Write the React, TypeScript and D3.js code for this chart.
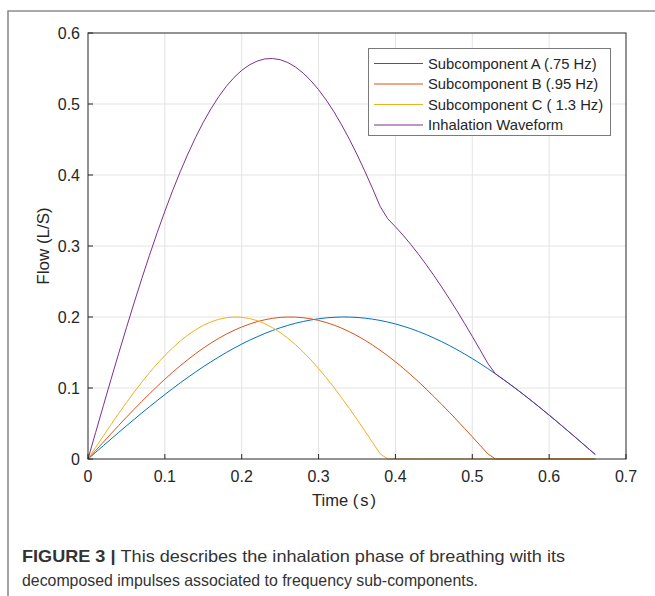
import React from "react";
import * as d3 from "d3";

const time: number[] = [
  0, 0.01, 0.02, 0.03, 0.04, 0.05, 0.06, 0.07, 0.08, 0.09,
  0.1, 0.11, 0.12, 0.13, 0.14, 0.15, 0.16, 0.17, 0.18, 0.19,
  0.2, 0.21, 0.22, 0.23, 0.24, 0.25, 0.26, 0.27, 0.28, 0.29,
  0.3, 0.31, 0.32, 0.33, 0.34, 0.35, 0.36, 0.37, 0.38, 0.39,
  0.4, 0.41, 0.42, 0.43, 0.44, 0.45, 0.46, 0.47, 0.48, 0.49,
  0.5, 0.51, 0.52, 0.53, 0.54, 0.55, 0.56, 0.57, 0.58, 0.59,
  0.6, 0.61, 0.62, 0.63, 0.64, 0.65, 0.66,
];

const subA: number[] = [
  0, 0.0094, 0.0188, 0.0282, 0.0375, 0.0467, 0.0558, 0.0648, 0.0736, 0.0823,
  0.0908, 0.0991, 0.1072, 0.115, 0.1226, 0.1299, 0.1369, 0.1436, 0.15, 0.1561,
  0.1618, 0.1672, 0.1721, 0.1768, 0.181, 0.1848, 0.1882, 0.1912, 0.1937, 0.1958,
  0.1975, 0.1988, 0.1996, 0.2, 0.1999, 0.1994, 0.1984, 0.197, 0.1952, 0.1929,
  0.1902, 0.1871, 0.1836, 0.1796, 0.1753, 0.1705, 0.1654, 0.1599, 0.1541, 0.1479,
  0.1414, 0.1346, 0.1275, 0.1201, 0.1124, 0.1045, 0.0964, 0.088, 0.0794, 0.0707,
  0.0618, 0.0528, 0.0436, 0.0344, 0.0251, 0.0157, 0.0063,
];

const subB: number[] = [
  0, 0.0119, 0.0238, 0.0356, 0.0473, 0.0588, 0.0701, 0.0811, 0.0919, 0.1023,
  0.1124, 0.1221, 0.1313, 0.1401, 0.1484, 0.1561, 0.1633, 0.1699, 0.1759, 0.1812,
  0.186, 0.19, 0.1934, 0.1961, 0.1981, 0.1994, 0.2, 0.1998, 0.199, 0.1974,
  0.1952, 0.1922, 0.1886, 0.1843, 0.1793, 0.1737, 0.1675, 0.1607, 0.1533, 0.1454,
  0.1369, 0.128, 0.1186, 0.1088, 0.0985, 0.088, 0.0771, 0.066, 0.0546, 0.043,
  0.0313, 0.0194, 0.0075, 0, 0, 0, 0, 0, 0, 0,
  0, 0, 0, 0, 0, 0, 0,
];

const subC: number[] = [
  0, 0.0163, 0.0325, 0.0485, 0.0642, 0.0794, 0.0941, 0.1082, 0.1216, 0.1341,
  0.1458, 0.1565, 0.1661, 0.1746, 0.182, 0.1882, 0.1931, 0.1967, 0.199, 0.2,
  0.1996, 0.1979, 0.1949, 0.1906, 0.185, 0.1782, 0.1702, 0.1611, 0.1508, 0.1396,
  0.1275, 0.1145, 0.1008, 0.0863, 0.0713, 0.0558, 0.0399, 0.0238, 0.0075, 0,
  0, 0, 0, 0, 0, 0, 0, 0, 0, 0,
  0, 0, 0, 0, 0, 0, 0, 0, 0, 0,
  0, 0, 0, 0, 0, 0, 0,
];

const inhalation: number[] = [
  0, 0.0376, 0.0751, 0.1123, 0.149, 0.1849, 0.22, 0.2541, 0.2871, 0.3187,
  0.349, 0.3777, 0.4046, 0.4297, 0.453, 0.4742, 0.4933, 0.5102, 0.5249, 0.5373,
  0.5474, 0.5551, 0.5604, 0.5635, 0.5641, 0.5624, 0.5584, 0.5521, 0.5435, 0.5328,
  0.5202, 0.5055, 0.489, 0.4706, 0.4505, 0.4289, 0.4058, 0.3815, 0.356, 0.3383,
  0.3271, 0.3151, 0.3022, 0.2884, 0.2738, 0.2585, 0.2425, 0.2259, 0.2087, 0.1909,
  0.1727, 0.154, 0.135, 0.1201, 0.1124, 0.1045, 0.0964, 0.088, 0.0794, 0.0707,
  0.0618, 0.0528, 0.0436, 0.0344, 0.0251, 0.0157, 0.0063,
];

const seriesNames: string[] = [
  "Subcomponent A (.75 Hz)",
  "Subcomponent B (.95 Hz)",
  "Subcomponent C ( 1.3 Hz)",
  "Inhalation Waveform",
];
const seriesColors: string[] = ["#0072BD", "#D95319", "#EDB120", "#7E2F8E"];
const seriesValues: number[][] = [subA, subB, subC, inhalation];

const xTicks: number[] = [0, 0.1, 0.2, 0.3, 0.4, 0.5, 0.6, 0.7];
const yTicks: number[] = [0, 0.1, 0.2, 0.3, 0.4, 0.5, 0.6];

const W = 655;
const H = 596;
const L = 88;
const R = 626;
const T = 33;
const B = 459;

export default function App() {
  const x = d3.scaleLinear().domain([0, 0.7]).range([L, R]);
  const y = d3.scaleLinear().domain([0, 0.6]).range([B, T]);
  const line = d3
    .line<[number, number]>()
    .x((d) => x(d[0]))
    .y((d) => y(d[1]));
  const font = "Arial, 'Liberation Sans', Helvetica, sans-serif";
  const tickColor = "#262626";
  const legendRows = [63.5, 84, 104.5, 125];

  return (
    <svg
      width={W}
      height={H}
      style={{ position: "absolute", left: 0, top: 0, display: "block", fontFamily: font }}
    >
      <rect x={0} y={0} width={W} height={H} fill="#ffffff" />
      <path d={`M8,${H + 2} L8,11 L${W + 2},11`} fill="none" stroke="#8c8c8c" strokeWidth={1.6} />

      {xTicks.slice(1, -1).map((t) => (
        <line key={"gx" + t} x1={x(t)} x2={x(t)} y1={T} y2={B} stroke="#e3e3e3" strokeWidth={1} />
      ))}
      {yTicks.slice(1, -1).map((t) => (
        <line key={"gy" + t} x1={L} x2={R} y1={y(t)} y2={y(t)} stroke="#e3e3e3" strokeWidth={1} />
      ))}

      {seriesValues.map((vals, i) => (
        <path
          key={seriesNames[i]}
          d={line(vals.map((v, j) => [time[j], v] as [number, number])) || ""}
          fill="none"
          stroke={seriesColors[i]}
          strokeWidth={1}
        />
      ))}

      <rect x={L} y={T} width={R - L} height={B - T} fill="none" stroke={tickColor} strokeWidth={1} />
      {xTicks.map((t) => (
        <g key={"xt" + t}>
          <line x1={x(t)} x2={x(t)} y1={B} y2={B - 5} stroke={tickColor} />
          <text x={x(t)} y={482} textAnchor="middle" fontSize={16} fill={tickColor}>
            {String(t)}
          </text>
        </g>
      ))}
      {yTicks.map((t) => (
        <g key={"yt" + t}>
          <line x1={L} x2={L + 5} y1={y(t)} y2={y(t)} stroke={tickColor} />
          <text x={80} y={y(t) + 5.7} textAnchor="end" fontSize={16} fill={tickColor}>
            {String(t)}
          </text>
        </g>
      ))}

      <text x={344} y={506} textAnchor="middle" fontSize={16.5} fill={tickColor}>
        Time (<tspan dx={2}>s</tspan><tspan dx={2}>)</tspan>
      </text>
      <text
        transform={`translate(49,246) rotate(-90)`}
        textAnchor="middle"
        fontSize={17}
        fill={tickColor}
      >
        Flow (L/S)
      </text>

      <rect x={368.5} y={48.5} width={242} height={87} fill="#ffffff" stroke="#7a7a7a" strokeWidth={1} />
      {seriesNames.map((n, i) => (
        <g key={"lg" + n}>
          <line x1={374} x2={423} y1={legendRows[i]} y2={legendRows[i]} stroke={seriesColors[i]} strokeWidth={1} />
          <text x={428} y={legendRows[i] + 5} fontSize={14.8} fill={tickColor}>
            {n}
          </text>
        </g>
      ))}

      <text x={22} y={562} fontSize={16.5} fill="#333333" textLength={543} lengthAdjust="spacingAndGlyphs">
        <tspan fontWeight="bold">FIGURE 3 | </tspan>
        <tspan>This describes the inhalation phase of breathing with its</tspan>
      </text>
      <text x={22} y={586} fontSize={16.5} fill="#333333" textLength={456} lengthAdjust="spacingAndGlyphs">
        decomposed impulses associated to frequency sub-components.
      </text>
    </svg>
  );
}
